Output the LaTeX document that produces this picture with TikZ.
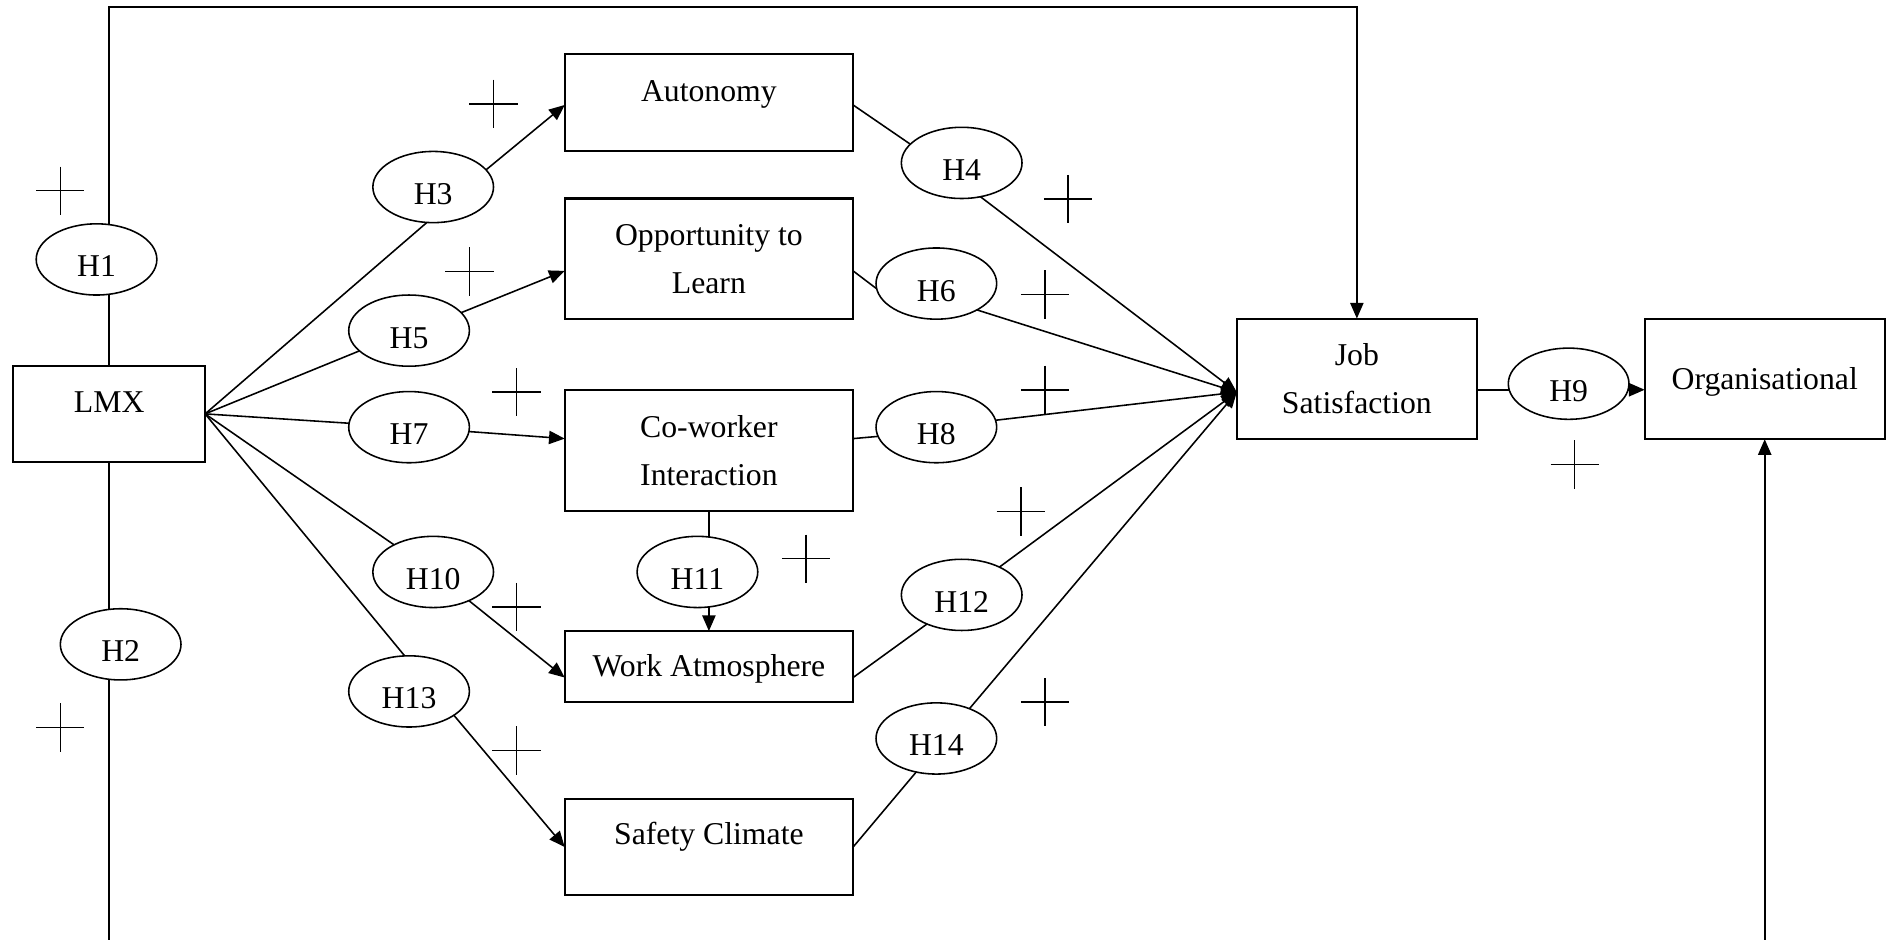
\documentclass[tikz,border=0pt]{standalone}
\usepackage{fontspec}
\setmainfont{Liberation Serif}
\usetikzlibrary{shapes.geometric,arrows.meta,calc}

% text block inside a box: width, height, first baseline from top, lines
\newcommand\boxlines[4]{\parbox[c][#2pt][t]{#1pt}{\fontsize{26.3pt}{40pt}\selectfont\centering\rule{0pt}{#3pt}#4}}

\tikzset{
  link/.style={line width=1.3pt, line cap=butt},
  arr/.style={-{Triangle[length=13pt,width=11pt]}},
  varbox/.style={draw, rectangle, line width=1.7pt, inner sep=0pt, outer sep=0pt},
  hyp/.style={draw, ellipse, fill=white, line width=1.3pt, inner sep=0pt, outer sep=0pt,
    minimum width=100pt, minimum height=59pt, text height=29pt, text depth=0pt},
  plusmark/.pic={\draw[link] (-20,0) -- (20,0) (0,-20) -- (0,20);}
}

\begin{document}
\begin{tikzpicture}[x=1pt, y=-1pt, font=\fontsize{26.3pt}{40pt}\selectfont]
\useasboundingbox (0,0) rectangle (1568,779);

% constructs
\node[varbox] (lmx)  at (90.5,343)   {\boxlines{159}{80}{39}{LMX}};
\node[varbox] (auto) at (587.5,85)   {\boxlines{239}{80}{39}{Autonomy}};
\node[varbox] (opp)  at (587.5,214.5){\boxlines{239}{100}{39}{Opportunity to\\Learn}};
\node[varbox] (cow)  at (587.5,373.5){\boxlines{239}{100}{39}{Co-worker\\Interaction}};
\node[varbox] (wa)   at (587.5,552.5){\boxlines{239}{59}{38}{Work Atmosphere}};
\node[varbox] (sc)   at (587.5,702)  {\boxlines{239}{80}{38}{Safety Climate}};
\node[varbox] (js)   at (1124.5,314) {\boxlines{199}{100}{39}{Job\\Satisfaction}};
\node[varbox] (org)  at (1462.5,314) {\boxlines{199}{100}{59}{Organisational}};

% reference heights and the common entry point of Job Satisfaction
\coordinate (topy) at (0,6);
\coordinate (foot) at (0,780);
\coordinate (jsin) at ($(js.west)+(0,11)$);

% straight links that pass under their hypothesis labels
\draw[link,arr] (lmx.north) |- (js.north |- topy) -- (js.north);
\draw[link] (lmx.south) -- (lmx.south |- foot);
\draw[link,arr] (org.south |- foot) -- (org.south);
\draw[link,arr] (cow.south) -- (wa.north);
\draw[link,arr] ($(js.east)+(0,9)$) -- ($(org.west)+(0,9)$);

% hypotheses
\node[hyp] (h1)  at (80,215)   {H1};
\node[hyp] (h2)  at (100,534)  {H2};
\node[hyp] (h3)  at (359,155)  {H3};
\node[hyp] (h4)  at (797,135)  {H4};
\node[hyp] (h5)  at (339,274)  {H5};
\node[hyp] (h6)  at (776,235)  {H6};
\node[hyp] (h7)  at (339,354)  {H7};
\node[hyp] (h8)  at (776,354)  {H8};
\node[hyp] (h9)  at (1300,318) {H9};
\node[hyp] (h10) at (359,474)  {H10};
\node[hyp] (h11) at (578,474)  {H11};
\node[hyp] (h12) at (797,493)  {H12};
\node[hyp] (h13) at (339,573)  {H13};
\node[hyp] (h14) at (776,612)  {H14};

% LMX to the work characteristics
\draw[link] (lmx.east) -- (h3.-100);
\draw[link,arr] (h3.18) -- ($(auto.west)+(0,2)$);
\draw[link] (lmx.east) -- (h5);
\draw[link,arr] (h5.19) -- ($(opp.west)+(0,10)$);
\draw[link] (lmx.east) -- (h7);
\draw[link,arr] (h7) -- ($(cow.west)+(0,-10)$);
\draw[link] (lmx.east) -- (h10);
\draw[link,arr] (h10) -- ($(wa.west)+(0,9)$);
\draw[link] (lmx.east) -- (h13.97);
\draw[link,arr] (h13.-28) -- (sc.west);

% work characteristics to job satisfaction
\draw[link] ($(auto.east)+(0,2)$) -- (h4.160);
\draw[link,arr] (h4.-61) -- (jsin);
\draw[link] ($(opp.east)+(0,10)$) -- (h6.185);
\draw[link,arr] (h6.-33) -- (jsin);
\draw[link] ($(cow.east)+(0,-10)$) -- (h8.189);
\draw[link,arr] (h8) -- (jsin);
\draw[link] ($(wa.east)+(0,9)$) -- (h12.-140);
\draw[link,arr] (h12) -- (jsin);
\draw[link] (sc.east) -- (h14.-121);
\draw[link,arr] (h14.42) -- (jsin);

% positive signs
\pic at (50,158)   {plusmark};
\pic at (50,603)   {plusmark};
\pic at (409,86)   {plusmark};
\pic at (885,165)  {plusmark};
\pic at (389,225)  {plusmark};
\pic at (866,244)  {plusmark};
\pic at (428,325)  {plusmark};
\pic at (866,323)  {plusmark};
\pic at (1305,385) {plusmark};
\pic at (428,503)  {plusmark};
\pic at (668,463)  {plusmark};
\pic at (846,424)  {plusmark};
\pic at (428,622)  {plusmark};
\pic at (866,582)  {plusmark};
\end{tikzpicture}
\end{document}
